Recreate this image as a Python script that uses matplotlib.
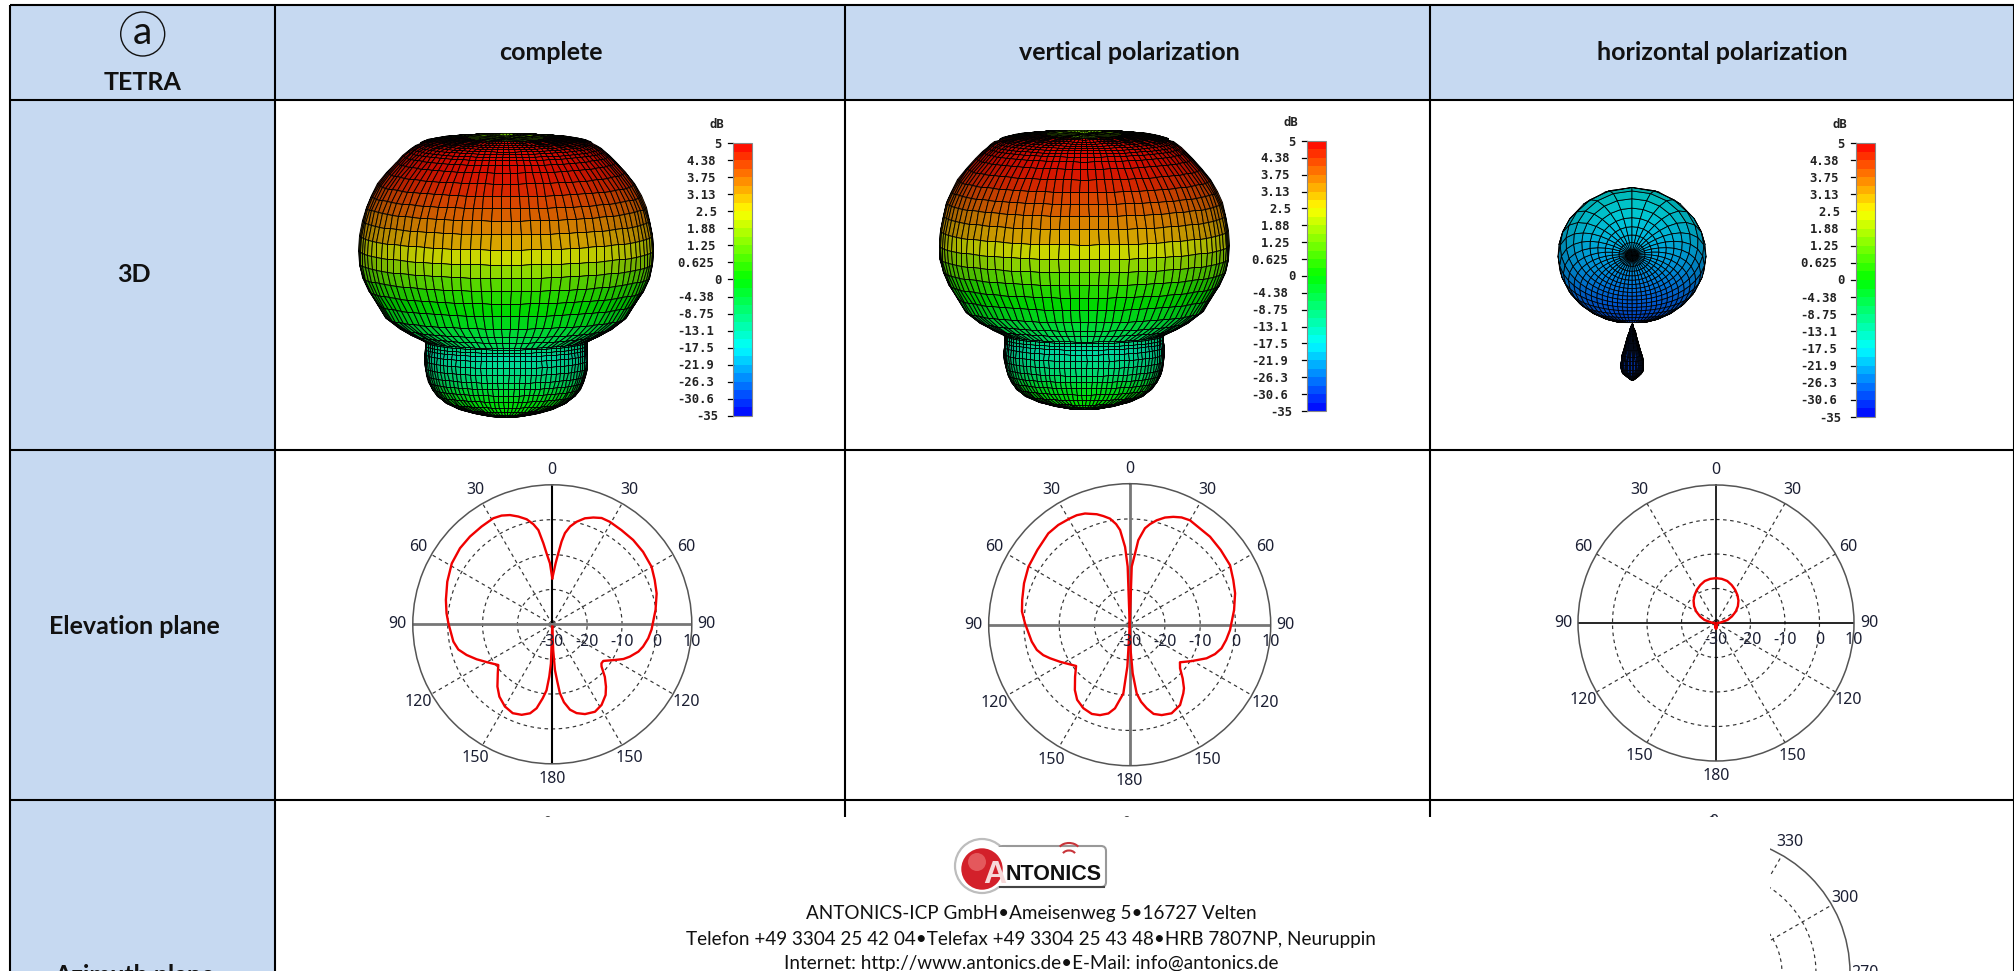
import numpy as np
import matplotlib
matplotlib.use("Agg")
import matplotlib.pyplot as plt
from matplotlib.colors import hsv_to_rgb
from matplotlib.collections import PolyCollection
from matplotlib.patches import Rectangle, Circle, Arc, FancyBboxPatch

W, H = 2015, 971

# ---------------- table text ----------------
headers = ["complete", "vertical polarization", "horizontal polarization"]
row_labels = ["3D", "Elevation plane", "Azimuth plane"]
corner_mark = "a"
corner_label = "TETRA"
footer_lines = ["ANTONICS-ICP GmbH\u2022Ameisenweg 5\u202216727 Velten",
                "Telefon +49 3304 25 42 04\u2022Telefax +49 3304 25 43 48\u2022HRB 7807NP, Neuruppin",
                "Internet: http://www.antonics.de\u2022E-Mail: info@antonics.de"]

# ---------------- colour scale ----------------
scale_db = [5, 4.38, 3.75, 3.13, 2.5, 1.88, 1.25, 0.625, 0, -4.38, -8.75, -13.1, -17.5, -21.9, -26.3, -30.6, -35]
scale_labels = ["5", "4.38", "3.75", "3.13", "2.5", "1.88", "1.25", "0.625", "0", "-4.38", "-8.75",
                "-13.1", "-17.5", "-21.9", "-26.3", "-30.6", "-35"]

# ---------------- 3D pattern: mushroom (complete / vertical), per ring ----------------
ring_depth = [12, 14, 17, 20, 24, 29, 35, 43, 52, 65, 85, 115, 150, 185, 220, 260, 305, 350, 390, 430, 470,
              510, 550, 580, 600, 620, 625, 635, 645, 660, 680, 702, 725, 745, 765, 785, 805, 822, 835, 845, 850]
ring_radius = [115, 150, 185, 215, 240, 258, 272, 285, 295, 310, 330, 358, 385, 405, 420, 430, 439, 442, 440, 430, 412,
               387, 362, 322, 287, 245, 243, 243, 243, 244, 245, 243, 238, 232, 222, 207, 182, 145, 100, 50, 0]
ring_gain = [4.9, 4.9, 4.9, 4.9, 4.9, 4.9, 4.9, 4.9, 4.85, 4.85, 4.75, 4.55, 4.2, 3.9, 3.5, 3.1, 2.35, 1.65, 1.0, 0.4, 0,
             -2, -4.4, -6, -7, -9, -11, -12, -13, -12, -10.5, -9, -7, -4, -2, -0.8, 0, 0, 0, 0, 0]

# ---------------- 3D pattern: horizontal polarization ----------------
lobe_height = [-1.0, -0.6, -0.2, 0.2, 0.6, 1.0]
lobe_gain = [-29.5, -27, -23.5, -21, -18.5, -17]
drop_depth = [0, 12, 25, 40, 60, 80, 100, 112, 125, 140, 150, 160, 167, 170]
drop_radius = [0, 5, 9, 14, 20, 25, 31, 33, 35, 33, 28, 18, 6, 0]
drop_gain = [-30] * 14

# ---------------- elevation cuts, degrees from top and dB ----------------
el1_right_deg = [0, 3.1, 4.8, 6.4, 7.9, 10.3, 13.3, 17.1, 21, 24.9, 29.3, 36.3, 43.8, 51.4, 59.9, 66.6, 73.5, 82,
                 93, 98.3, 103.8, 107.6, 112.6, 116, 119.6, 125.7, 128.5, 130.6, 135, 139.3, 143, 148.6, 154, 160,
                 164.7, 168.3, 171.5, 173.7, 175, 176.7, 178, 180]
el1_right_db = [-16.8, -12.5, -9.6, -6.1, -3.6, -1.5, 0.2, 1.8, 2.8, 3.6, 3.7, 3.5, 3.5, 3.3, 2.9, 2.0, 1.2, -0.1,
                -1.5, -2.2, -3.2, -4.1, -5.9, -7.3, -9.3, -12, -12, -11.4, -8.7, -6.4, -4.6, -2.9, -2.1, -2.6,
                -3.6, -5, -7.4, -10.1, -13.5, -16.9, -22.6, -29.3]
el1_left_deg = [0, 2.2, 4.6, 6.3, 8.4, 10.7, 13.7, 17.5, 21.2, 25, 29.1, 35.9, 43.2, 50.5, 58.8, 67.9, 77.1, 84, 89.4,
                99.9, 105, 109.7, 114.8, 120, 127, 131.9, 138.6, 143.8, 150, 156, 161.3, 166, 169.4, 172.6, 175,
                176.7, 178, 180]
el1_left_db = [-16.8, -12.5, -9.6, -6.6, -2.7, -0.8, 1, 2.4, 3.6, 4.4, 4.8, 4.6, 4.5, 4.3, 3.7, 2.5, 1.3, 0.5, -0.2,
               -1.2, -2.1, -3.9, -6.1, -8.3, -10.6, -9, -6.2, -4.3, -2.8, -2.1, -2.6, -3.7, -5.5, -8.6, -11,
               -15, -18.8, -29.3]

el2_right_deg = [0, 2, 4.3, 5.8, 7.5, 9, 11.4, 14.5, 18.2, 22, 25.8, 30, 36.1, 42.4, 50.6, 59.3, 66.7, 73.4, 82, 93,
                 99, 104.4, 109, 113.6, 120.4, 126.8, 130.9, 135.4, 139.5, 142, 147.9, 154.7, 160.5, 165, 168.5,
                 171.6, 174.2, 176.5, 178, 180]
el2_right_db = [-30, -13.5, -9.7, -5.9, -4.1, -2.3, -0.9, 0.6, 2, 3.0, 3.8, 4.2, 3.8, 3.8, 3.4, 3.1, 2, 1.2, -0.1, -1.5,
                -2.3, -3.1, -4.4, -6.2, -9.6, -12.2, -11.1, -8.6, -6.3, -5.3, -3.1, -2.2, -2.8, -3.8, -5.8,
                -7.9, -10.4, -16.2, -22.8, -29.4]
el2_left_deg = [0, 2, 3.4, 5.8, 7.7, 10.5, 13.6, 16.6, 21.9, 25.8, 29.3, 35.6, 41.7, 51, 60.2, 68.6, 77, 83, 89.3,
                99.8, 105.2, 109.4, 112.9, 118, 127.6, 133.6, 140, 145, 151, 157, 161.8, 166.5, 170, 174.7, 176.8, 180]
el2_left_db = [-30, -13.5, -7.9, -3, -1.2, 0.6, 1.7, 2.7, 4, 4.5, 4.6, 4.8, 4.7, 3.7, 3.1, 2.2, 1.3, 0.8, -0.3,
               -1.8, -2.7, -4, -5.5, -7.6, -10.8, -8.6, -5.8, -4, -2.9, -2.5, -3, -4.1, -5.9, -10.4, -18.1, -29.4]

el3_right_deg = [0, 7.5, 15, 22.5, 30, 37.5, 45, 52.5, 60, 67.5, 75, 85, 90]
el3_right_db = [-17, -17.1, -17.4, -18.1, -18.9, -19.8, -20.8, -22, -23.4, -25, -26.5, -28.8, -29.6]
el3_left_deg = [0, 7.5, 15, 22.5, 30, 37.5, 45, 52.5, 60, 67.5, 75, 85, 90]
el3_left_db = [-17, -17.1, -17.4, -18.1, -18.9, -19.8, -20.8, -22, -23.4, -25, -26.5, -28.8, -29.6]
el3_back_deg = [170, 180, 190]
el3_back_db = [-29.3, -28.4, -29.3]

polar_ring_db = [-30, -20, -10, 0, 10]
polar_spoke_deg = [30, 60, 120, 150, 210, 240, 300, 330]
elev_labels = [(0, "0"), (30, "30"), (60, "60"), (90, "90"), (120, "120"), (150, "150"), (180, "180"),
               (210, "150"), (240, "120"), (270, "90"), (300, "60"), (330, "30")]
azim_labels = [(0, "0"), (30, "330"), (60, "300"), (90, "270"), (120, "240"), (150, "210"), (180, "180"),
               (210, "150"), (240, "120"), (270, "90"), (300, "60"), (330, "30")]

BLUE = "#C6D9F1"
TEXTFONT = ["Lato", "DejaVu Sans"]
POLARFONT = ["Noto Sans", "DejaVu Sans"]
TXT = "#1b1f33"
LABEL_SIZE = 18

fig = plt.figure(figsize=(W / 100, H / 100), dpi=100, facecolor="white")
ax = fig.add_axes([0, 0, 1, 1], zorder=0)
ax.set_xlim(0, W)
ax.set_ylim(H, 0)
ax.axis("off")
ax.set_autoscale_on(False)

# ---------------- table ----------------
col_x = [10, 275, 845, 1430, 2014]
row_y = [5, 100, 450, 800]
ax.add_patch(Rectangle((10, 5), 2004, 95, fc=BLUE, ec="none", zorder=0))
ax.add_patch(Rectangle((10, 5), 265, 980, fc=BLUE, ec="none", zorder=0))
for y in row_y:
    ax.plot([10, 2014], [y, y], color="k", lw=1.5, zorder=1, solid_capstyle="butt")
for x in col_x:
    ax.plot([x, x], [5, H], color="k", lw=1.5, zorder=1, solid_capstyle="butt")

for x, t in zip([551, 1129, 1722], headers):
    ax.text(x, 53, t, ha="center", va="center", family=TEXTFONT, weight="bold", fontsize=LABEL_SIZE, color="#111")
ax.text(134, 275, row_labels[0], ha="center", va="center", family=TEXTFONT, weight="bold", fontsize=LABEL_SIZE, color="#111")
ax.text(134, 626, row_labels[1], ha="center", va="center", family=TEXTFONT, weight="bold", fontsize=LABEL_SIZE, color="#111")
ax.text(134, 964, row_labels[2], ha="center", va="top", family=TEXTFONT, weight="bold", fontsize=LABEL_SIZE, color="#111")
ax.add_patch(Circle((142.7, 34), 22, fc="none", ec="#111", lw=1.0, zorder=2))
ax.text(142.7, 33, corner_mark, ha="center", va="center", family=TEXTFONT, fontsize=28, color="#111")
ax.text(143, 83, corner_label, ha="center", va="center", family=TEXTFONT, weight="bold", fontsize=LABEL_SIZE, color="#111")


# ---------------- colour helpers ----------------
def gain_fraction(g):
    return np.interp(g, scale_db[::-1], np.linspace(1, 0, len(scale_db)))


def frac_rgb(frac, value=1.0):
    frac = np.asarray(frac, float)
    hsv = np.stack([frac * 240 / 360, np.ones_like(frac), np.ones_like(frac) * value], axis=-1)
    return hsv_to_rgb(hsv)


def colour_bar(left, top, bottom):
    width = 19
    edges = np.linspace(top, bottom, 33)
    fracs = (np.arange(32) + 0.5) / 32
    rgb = frac_rgb(fracs)[:, None, :]
    ax.pcolormesh([left, left + width], edges, rgb, zorder=3)
    ax.add_patch(Rectangle((left, top), width, bottom - top, fc="none", ec="#888", lw=0.8, zorder=4))
    ys = np.linspace(top, bottom, len(scale_db))
    for y, lab in zip(ys, scale_labels):
        ax.plot([left - 4.5, left], [y, y], color="k", lw=0.9, zorder=3)
        ax.text(left - 11 - 2 * (len(lab) - 1), y + 1, lab, ha="right", va="center",
                family="DejaVu Sans Mono", weight="bold", fontsize=8.8, color="#222")
    ax.text(left - 16, top - 18, "dB", ha="center", va="center", family="DejaVu Sans Mono",
            weight="bold", fontsize=8.8, color="#222")


def revolve(cx, cy, depth, radius, gain, scale, step, phi0=-90, phi1=90, light=(0.55, 0.30), lw=0.65, sag=0.1):
    depth = np.asarray(depth, float)[:, None]
    radius = np.asarray(radius, float)[:, None]
    phi = np.deg2rad(np.arange(phi0, phi1 + 0.01, step))[None, :]
    X = cx + scale * radius * np.sin(phi)
    Y = cy + scale * (depth + sag * radius * np.cos(phi))
    mid = 0.5 * (phi[:, :-1] + phi[:, 1:])
    L = light[0] + light[1] * np.cos(mid)
    rgb = frac_rgb(gain_fraction(np.asarray(gain[:-1], float)))[:, None, :]
    rgb = np.clip(rgb * L[..., None], 0, 1)
    ax.pcolormesh(X, Y, rgb, edgecolors="k", linewidth=lw, antialiased=True, zorder=3)


def mushroom(cx, cy, scale):
    # far side of the rim, dimple, then the near side
    revolve(cx, cy, ring_depth[:6], ring_radius[:6], [1.6] * 6, scale, 4, 90, 270, light=(0.35, 0.0))
    revolve(cx, cy, [12, 12.5, 13, 13.5], [115, 80, 40, 0], [1.4] * 4, scale, 6, -180, 180, light=(0.72, 0.0), lw=0.4)
    revolve(cx, cy, ring_depth, ring_radius, ring_gain, scale, 4)


mushroom(505.7, 133.3, 1 / 3)
colour_bar(733, 143, 416)
mushroom(1083.7, 130, 0.985 / 3)
colour_bar(1307, 141, 411)


def horizontal_lobe(cx, cy, rx, ry):
    psi = np.deg2rad(np.arange(0, 89, 5.0))
    ang = np.deg2rad(np.arange(0, 360.1, 9.0))
    rho = np.tan(psi)[:, None]
    PX = rho * np.cos(ang)[None, :]
    PZ = 1 + rho * np.sin(ang)[None, :]
    D = 1 + PX ** 2 + PZ ** 2
    x, y, z = 2 * PX / D, 2 / D - 1, 2 * PZ / D
    hidden = z < 0
    norm = np.hypot(x, y)
    x = np.where(hidden, x / norm, x)
    y = np.where(hidden, y / norm, y)
    z = np.where(hidden, 0.0, z)
    polys, cols = [], []
    for i in range(x.shape[0] - 1):
        for j in range(x.shape[1] - 1):
            idx = [(i, j), (i + 1, j), (i + 1, j + 1), (i, j + 1)]
            if all(hidden[k] for k in idx):
                continue
            polys.append([(cx + rx * x[k], cy - ry * y[k]) for k in idx])
            xc = np.mean([y[k] for k in idx])
            zc = np.mean([z[k] for k in idx])
            rgb = frac_rgb(gain_fraction(np.interp(xc, lobe_height, lobe_gain))) * (0.62 + 0.26 * zc)
            cols.append(rgb)
    ax.add_collection(PolyCollection(polys, facecolors=cols, edgecolors="k", linewidths=0.6, zorder=3))


horizontal_lobe(1632, 255.5, 74, 68)
revolve(1631.7, 323, drop_depth, drop_radius, drop_gain, 1 / 3, 7.5, light=(0.3, 0.3), lw=0.55, sag=0.02)
colour_bar(1856, 143, 417)


# ---------------- polar cuts ----------------
def polar_axes(cx, cy, R, cross_v=("k", 1.5), cross_h=("#777", 2.0)):
    p = fig.add_axes([(cx - R) / W, 1 - (cy + R) / H, 2 * R / W, 2 * R / H], projection="polar", zorder=2)
    p.patch.set_alpha(0)
    p.set_theta_zero_location("N")
    p.set_theta_direction(-1)
    p.set_ylim(polar_ring_db[0], polar_ring_db[-1])
    p.set_xticks([])
    p.set_yticks([])
    p.spines["polar"].set_color("#555")
    p.spines["polar"].set_linewidth(1.1)
    th = np.deg2rad(np.arange(0, 361, 2.0))
    for r in polar_ring_db[1:-1] + [-29]:
        p.plot(th, np.full_like(th, r), color="#333", lw=0.85, dashes=(3, 3))
    for a in polar_spoke_deg:
        p.plot([np.deg2rad(a)] * 2, [-30, 10], color="#333", lw=0.85, dashes=(3, 3))
    p.plot(np.deg2rad([0, 0]), [-30, 10], color=cross_v[0], lw=cross_v[1])
    p.plot(np.deg2rad([180, 180]), [-30, 10], color=cross_v[0], lw=cross_v[1])
    p.plot(np.deg2rad([90, 90]), [-30, 10], color=cross_h[0], lw=cross_h[1])
    p.plot(np.deg2rad([270, 270]), [-30, 10], color=cross_h[0], lw=cross_h[1])
    return p


def polar_labels(p, R, labels, radial=True):
    rpos = 10 + 40 * (15.0 / R)
    for a, t in labels:
        p.text(np.deg2rad(a), rpos, t, ha="center", va="center", family=POLARFONT, fontsize=11.5, color=TXT, clip_on=False)
    if radial:
        for r in polar_ring_db:
            p.annotate(str(r), xy=(np.pi / 2, r), xytext=(0, -12.5), textcoords="offset points",
                       ha="center", va="center", family=POLARFONT, fontsize=11.5, color=TXT)


RED = "#F00000"
p1 = polar_axes(552.3, 624.3, 139.5)
p1.plot(np.deg2rad(el1_right_deg), el1_right_db, color=RED, lw=1.7)
p1.plot(-np.deg2rad(el1_left_deg), el1_left_db, color=RED, lw=1.7)
polar_labels(p1, 139.5, elev_labels)

p2 = polar_axes(1129.7, 624.7, 141, cross_v=("#777", 2.0))
p2.plot(np.deg2rad(el2_right_deg), el2_right_db, color=RED, lw=1.7)
p2.plot(-np.deg2rad(el2_left_deg), el2_left_db, color=RED, lw=1.7)
polar_labels(p2, 141, elev_labels)

p3 = polar_axes(1716, 623, 138, cross_v=("k", 1.2), cross_h=("k", 1.2))
p3.plot(np.deg2rad(el3_right_deg), el3_right_db, color=RED, lw=1.7)
p3.plot(-np.deg2rad(el3_left_deg), el3_left_db, color=RED, lw=1.7)
p3.plot(np.deg2rad(el3_back_deg), el3_back_db, color=RED, lw=2.2)
polar_labels(p3, 138, elev_labels)

# azimuth row: only the top right of the third plot shows past the pasted footer
p4 = polar_axes(1714, 973, 136, cross_v=("k", 1.2), cross_h=("k", 1.2))
polar_labels(p4, 136, azim_labels, radial=False)

for x in [547, 1126, 1711]:
    ax.text(x, 822, "0", ha="center", va="center", family=POLARFONT, fontsize=10, color="#444")

# ---------------- pasted footer ----------------
ov = fig.add_axes([0, 0, 1, 1], zorder=5)
ov.set_xlim(0, W)
ov.set_ylim(H, 0)
ov.axis("off")
ov.add_patch(Rectangle((277, 817), 1770 - 277, H - 817, fc="white", ec="none"))
ov.add_patch(Circle((982, 866), 27, fc="white", ec="#BDBDBD", lw=1.6))
ov.add_patch(FancyBboxPatch((998, 846), 108, 41, boxstyle="round,pad=0,rounding_size=5", fc="white", ec="#999", lw=1.5))
ov.plot([1000, 1104], [887.5, 887.5], color="#444", lw=1.5)
ov.add_patch(Rectangle((984, 847), 22, 39, fc="white", ec="none"))
ov.add_patch(Circle((982, 869), 20.7, fc="#D3202A", ec="none"))
ov.add_patch(Circle((977, 862), 9, fc="#E4585C", ec="none"))
ov.add_patch(Arc((1069, 851), 22, 16, theta1=205, theta2=335, color="#C8343A", lw=1.5))
ov.add_patch(Arc((1069, 856), 14, 11, theta1=205, theta2=335, color="#C8343A", lw=1.5))
ov.text(995, 875, "A", ha="center", va="center", family="Liberation Sans", weight="bold", fontsize=23, color="#F7D9D9")
ov.text(1054, 875, "NTONICS", ha="center", va="center", family="Liberation Sans", weight="bold", fontsize=15.5, color="#111")
for y, t in zip([913, 939, 964], footer_lines):
    ov.text(1031, y, t, ha="center", va="center", family=TEXTFONT, fontsize=13.6, color="#111")

fig.savefig("out.png", dpi=100)
